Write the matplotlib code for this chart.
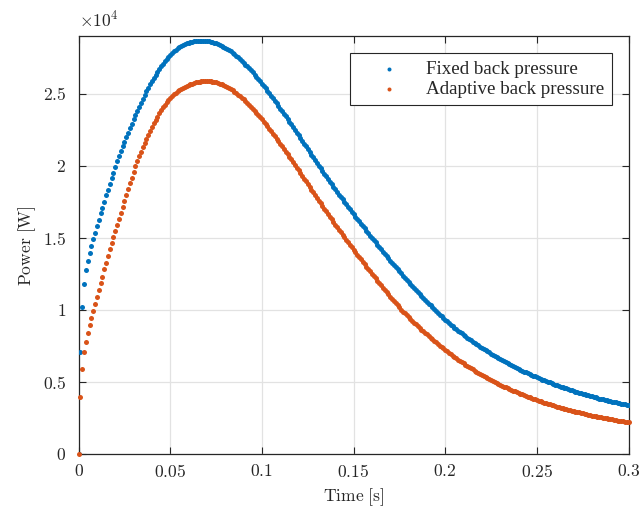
import numpy as np
import matplotlib.pyplot as plt

# power in units of 1e4 W, sampled every 1 ms from 0 to 0.3 s
fixed_bp = [
    0.000, 0.708, 1.024, 1.181, 1.275, 1.340, 1.393, 1.444, 1.490, 1.536,
    1.582, 1.624, 1.670, 1.709, 1.751, 1.795, 1.836, 1.876, 1.915, 1.954,
    1.994, 2.032, 2.068, 2.102, 2.135, 2.167, 2.199, 2.230, 2.261, 2.292,
    2.322, 2.352, 2.381, 2.410, 2.438, 2.465, 2.491, 2.517, 2.542, 2.566,
    2.589, 2.611, 2.632, 2.652, 2.671, 2.689, 2.707, 2.724, 2.740, 2.755,
    2.769, 2.782, 2.794, 2.805, 2.815, 2.824, 2.832, 2.839, 2.845, 2.850,
    2.854, 2.858, 2.861, 2.863, 2.865, 2.866, 2.866, 2.866, 2.866, 2.866,
    2.865, 2.863, 2.861, 2.858, 2.854, 2.850, 2.845, 2.840, 2.834, 2.827,
    2.820, 2.812, 2.803, 2.794, 2.784, 2.774, 2.763, 2.752, 2.740, 2.728,
    2.715, 2.702, 2.689, 2.675, 2.661, 2.647, 2.632, 2.617, 2.602, 2.586,
    2.570, 2.554, 2.537, 2.520, 2.503, 2.486, 2.469, 2.451, 2.433, 2.415,
    2.397, 2.379, 2.361, 2.343, 2.325, 2.306, 2.287, 2.268, 2.249, 2.230,
    2.211, 2.192, 2.173, 2.154, 2.135, 2.116, 2.097, 2.078, 2.059, 2.040,
    2.021, 2.002, 1.983, 1.964, 1.946, 1.927, 1.909, 1.891, 1.873, 1.855,
    1.837, 1.819, 1.801, 1.784, 1.767, 1.750, 1.733, 1.716, 1.699, 1.682,
    1.665, 1.648, 1.632, 1.615, 1.599, 1.582, 1.566, 1.549, 1.533, 1.517,
    1.501, 1.485, 1.469, 1.453, 1.437, 1.421, 1.405, 1.390, 1.374, 1.359,
    1.344, 1.329, 1.314, 1.299, 1.284, 1.269, 1.255, 1.240, 1.226, 1.211,
    1.197, 1.183, 1.169, 1.155, 1.141, 1.127, 1.113, 1.099, 1.086, 1.072,
    1.059, 1.046, 1.033, 1.020, 1.007, 0.994, 0.982, 0.970, 0.957, 0.945,
    0.933, 0.922, 0.911, 0.900, 0.889, 0.879, 0.869, 0.859, 0.849, 0.839,
    0.829, 0.820, 0.810, 0.801, 0.791, 0.782, 0.773, 0.765, 0.756, 0.748,
    0.739, 0.731, 0.723, 0.715, 0.707, 0.699, 0.691, 0.684, 0.676, 0.669,
    0.661, 0.654, 0.647, 0.640, 0.633, 0.626, 0.619, 0.613, 0.606, 0.600,
    0.593, 0.587, 0.581, 0.575, 0.569, 0.563, 0.557, 0.552, 0.546, 0.541,
    0.535, 0.530, 0.525, 0.519, 0.514, 0.509, 0.504, 0.499, 0.494, 0.489,
    0.484, 0.480, 0.475, 0.471, 0.466, 0.462, 0.458, 0.453, 0.449, 0.444,
    0.440, 0.436, 0.432, 0.429, 0.425, 0.421, 0.417, 0.413, 0.410, 0.406,
    0.402, 0.399, 0.395, 0.392, 0.388, 0.385, 0.382, 0.379, 0.376, 0.373,
    0.370, 0.367, 0.364, 0.361, 0.358, 0.355, 0.352, 0.349, 0.347, 0.344,
    0.341,
]

adaptive_bp = [
    0.000, 0.400, 0.592, 0.708, 0.777, 0.839, 0.897, 0.943, 0.994, 1.042,
    1.093, 1.139, 1.185, 1.231, 1.282, 1.328, 1.375, 1.423, 1.467, 1.508,
    1.551, 1.593, 1.635, 1.676, 1.717, 1.758, 1.798, 1.838, 1.878, 1.918,
    1.958, 1.997, 2.033, 2.067, 2.099, 2.130, 2.160, 2.189, 2.217, 2.244,
    2.270, 2.295, 2.319, 2.342, 2.364, 2.385, 2.405, 2.424, 2.442, 2.457,
    2.470, 2.483, 2.495, 2.506, 2.516, 2.525, 2.533, 2.541, 2.548, 2.554,
    2.560, 2.565, 2.570, 2.574, 2.578, 2.581, 2.583, 2.585, 2.586, 2.586,
    2.586, 2.586, 2.585, 2.583, 2.581, 2.578, 2.574, 2.570, 2.565, 2.560,
    2.554, 2.547, 2.540, 2.532, 2.523, 2.514, 2.504, 2.494, 2.483, 2.472,
    2.460, 2.448, 2.435, 2.422, 2.409, 2.395, 2.381, 2.367, 2.352, 2.337,
    2.322, 2.306, 2.290, 2.274, 2.257, 2.240, 2.223, 2.206, 2.189, 2.171,
    2.153, 2.135, 2.117, 2.099, 2.081, 2.063, 2.045, 2.026, 2.007, 1.988,
    1.969, 1.950, 1.931, 1.912, 1.893, 1.874, 1.855, 1.836, 1.817, 1.798,
    1.779, 1.760, 1.741, 1.722, 1.703, 1.684, 1.666, 1.647, 1.629, 1.611,
    1.593, 1.575, 1.557, 1.539, 1.521, 1.504, 1.487, 1.470, 1.453, 1.436,
    1.419, 1.402, 1.385, 1.368, 1.352, 1.335, 1.319, 1.302, 1.286, 1.269,
    1.253, 1.237, 1.221, 1.205, 1.189, 1.173, 1.157, 1.141, 1.125, 1.110,
    1.094, 1.079, 1.064, 1.049, 1.034, 1.019, 1.004, 0.990, 0.977, 0.964,
    0.951, 0.938, 0.926, 0.914, 0.902, 0.890, 0.878, 0.866, 0.854, 0.843,
    0.832, 0.821, 0.810, 0.799, 0.788, 0.777, 0.766, 0.755, 0.745, 0.735,
    0.724, 0.714, 0.704, 0.694, 0.685, 0.675, 0.666, 0.657, 0.648, 0.640,
    0.631, 0.623, 0.614, 0.606, 0.597, 0.589, 0.581, 0.574, 0.566, 0.559,
    0.551, 0.544, 0.537, 0.530, 0.523, 0.516, 0.509, 0.503, 0.496, 0.490,
    0.483, 0.477, 0.471, 0.465, 0.460, 0.454, 0.448, 0.443, 0.437, 0.432,
    0.426, 0.421, 0.416, 0.411, 0.406, 0.401, 0.396, 0.391, 0.386, 0.382,
    0.377, 0.373, 0.369, 0.364, 0.360, 0.356, 0.352, 0.348, 0.344, 0.340,
    0.336, 0.332, 0.328, 0.325, 0.321, 0.317, 0.314, 0.310, 0.307, 0.303,
    0.300, 0.297, 0.294, 0.291, 0.288, 0.285, 0.282, 0.279, 0.276, 0.273,
    0.270, 0.267, 0.265, 0.262, 0.260, 0.257, 0.255, 0.252, 0.250, 0.247,
    0.245, 0.243, 0.240, 0.238, 0.235, 0.233, 0.231, 0.229, 0.227, 0.225,
    0.223,
]

time = np.linspace(0, 0.3, len(fixed_bp))

xtick_vals = [0, 0.05, 0.1, 0.15, 0.2, 0.25, 0.3]
xtick_labels = ['0', '0.05', '0.1', '0.15', '0.2', '0.25', '0.3']
ytick_vals = [0, 5000, 10000, 15000, 20000, 25000]
ytick_labels = ['0', '0.5', '1', '1.5', '2', '2.5']
series_labels = ['Fixed back pressure', 'Adaptive back pressure']

plt.rcParams['mathtext.fontset'] = 'cm'
plt.rcParams['font.family'] = 'Liberation Serif'

dark = '#262626'
fig = plt.figure(figsize=(6.41, 5.17), dpi=100)
ax = fig.add_axes([0.1225, 0.1209, 0.858, 0.8095])

# scatter keeps sub-pixel positions, so the dense dots blend into a smooth band
ax.scatter(time, np.array(fixed_bp) * 1e4, s=3.6 ** 2, linewidths=0,
           color='#0072BD', label=series_labels[0], zorder=3)
ax.scatter(time, np.array(adaptive_bp) * 1e4, s=3.6 ** 2, linewidths=0,
           color='#D95319', label=series_labels[1], clip_on=False, zorder=3)

ax.set_xlim(0, 0.3)
ax.set_ylim(0, 29000)
ax.set_xticks(xtick_vals)
ax.set_xticklabels(['$%s$' % s for s in xtick_labels])
ax.set_yticks(ytick_vals)
ax.set_yticklabels(['$%s$' % s for s in ytick_labels])
ax.tick_params(direction='in', top=True, right=True, length=5, width=0.8,
               colors=dark, labelsize=12.6)
ax.tick_params(axis='x', pad=7)
ax.tick_params(axis='y', pad=9)
for sp in ax.spines.values():
    sp.set_color(dark)
    sp.set_linewidth(0.9)
ax.grid(color='#e2e2e2', linewidth=0.9)
ax.set_axisbelow(True)

ax.set_xlabel(r'$\mathrm{Time\ [s]}$', fontsize=12.6, color=dark, labelpad=4)
ax.set_ylabel(r'$\mathrm{Power\ [W]}$', fontsize=12.6, color=dark, labelpad=3)
ax.text(0, 1.012, r'$\times 10^{4}$', transform=ax.transAxes, fontsize=12.6,
        color=dark, ha='left', va='bottom')

leg = ax.legend(loc='upper right', bbox_to_anchor=(0.970, 0.959), fontsize=13.7,
                handlelength=3.3, handletextpad=0.3, borderpad=0.4,
                borderaxespad=0, labelspacing=0.12, fancybox=False,
                framealpha=1, markerscale=0.8, scatterpoints=1)
leg.get_frame().set_edgecolor(dark)
leg.get_frame().set_linewidth(0.8)
for t in leg.get_texts():
    t.set_color(dark)

fig.savefig('out.png', dpi=100)
